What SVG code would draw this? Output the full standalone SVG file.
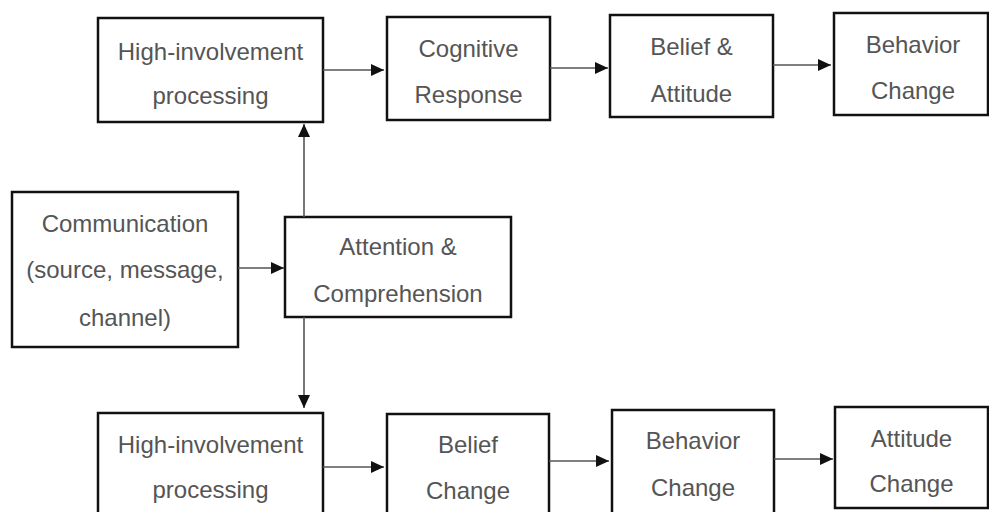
<svg xmlns="http://www.w3.org/2000/svg" width="989" height="512" viewBox="0 0 989 512">
<defs>
<marker id="ah" markerUnits="userSpaceOnUse" markerWidth="14" markerHeight="14" viewBox="0 0 14 14" refX="13" refY="7" orient="auto">
<path d="M0,1 L13,7 L0,13 Z" fill="#111"/>
</marker>
<style>
.box{fill:#fff;stroke:#111;stroke-width:2.5}
.t{font-family:"Liberation Sans",Arial,sans-serif;font-size:24px;fill:#555;text-anchor:middle}
.c{fill:none;stroke:#555;stroke-width:1.6;marker-end:url(#ah)}
</style>
</defs>
<rect width="989" height="512" fill="#fff"/>
<g id="n1"><rect class="box" x="98" y="18" width="225" height="104"/><text class="t" x="210.5" y="60">High-involvement</text><text class="t" x="210.5" y="104">processing</text></g>
<g id="n2"><rect class="box" x="387" y="17" width="163" height="103"/><text class="t" x="468.5" y="57">Cognitive</text><text class="t" x="468.5" y="103">Response</text></g>
<g id="n3"><rect class="box" x="610" y="15" width="163" height="102"/><text class="t" x="691.5" y="55">Belief &amp;</text><text class="t" x="691.5" y="102">Attitude</text></g>
<g id="n4"><rect class="box" x="834" y="13" width="154" height="102"/><text class="t" x="913" y="53">Behavior</text><text class="t" x="913" y="99">Change</text></g>
<g id="n5"><rect class="box" x="12" y="192" width="226" height="155"/><text class="t" x="125" y="232">Communication</text><text class="t" x="125" y="278">(source, message,</text><text class="t" x="125" y="326">channel)</text></g>
<g id="n6"><rect class="box" x="285" y="217" width="226" height="100"/><text class="t" x="398" y="255">Attention &amp;</text><text class="t" x="398" y="302">Comprehension</text></g>
<g id="n7"><rect class="box" x="98" y="413" width="225" height="105"/><text class="t" x="210.5" y="453">High-involvement</text><text class="t" x="210.5" y="498">processing</text></g>
<g id="n8"><rect class="box" x="387" y="414" width="162" height="104"/><text class="t" x="468" y="453">Belief</text><text class="t" x="468" y="499">Change</text></g>
<g id="n9"><rect class="box" x="612" y="410" width="162" height="108"/><text class="t" x="693" y="449">Behavior</text><text class="t" x="693" y="496">Change</text></g>
<g id="n10"><rect class="box" x="835" y="407" width="153" height="101"/><text class="t" x="911.5" y="447">Attitude</text><text class="t" x="911.5" y="492">Change</text></g>
<g id="connectors">
<line class="c" x1="323" y1="70" x2="384" y2="70"/>
<line class="c" x1="550" y1="68" x2="608" y2="68"/>
<line class="c" x1="773" y1="65" x2="831" y2="65"/>
<line class="c" x1="238" y1="268" x2="284" y2="268"/>
<line class="c" x1="304" y1="217" x2="304" y2="124"/>
<line class="c" x1="304" y1="317" x2="304" y2="408"/>
<line class="c" x1="323" y1="467" x2="384" y2="467"/>
<line class="c" x1="549" y1="461" x2="609" y2="461"/>
<line class="c" x1="774" y1="459" x2="833" y2="459"/>
</g>
</svg>
